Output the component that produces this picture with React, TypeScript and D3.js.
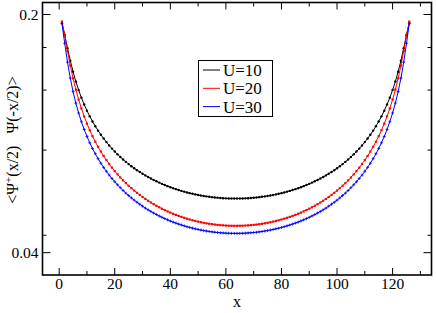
import React from "react";
import * as d3 from "d3";

// positions along the chain
const xs = d3.range(1, 127);

const u10 = [
  0.189, 0.1743, 0.1593, 0.1464, 0.1359, 0.1272, 0.1201, 0.114, 0.1089, 0.1044,
  0.1005, 0.09708, 0.094, 0.09125, 0.08877, 0.08651, 0.08445, 0.08256, 0.08083, 0.07923,
  0.07775, 0.07637, 0.07509, 0.0739, 0.07278, 0.07174, 0.07077, 0.06985, 0.06899, 0.06818,
  0.06742, 0.0667, 0.06603, 0.06539, 0.06479, 0.06422, 0.06369, 0.06318, 0.06271, 0.06226,
  0.06184, 0.06145, 0.06108, 0.06073, 0.06041, 0.0601, 0.05981, 0.05955, 0.0593, 0.05908,
  0.05887, 0.05868, 0.05851, 0.05835, 0.05821, 0.05809, 0.05798, 0.05789, 0.05781, 0.05775,
  0.05771, 0.05768, 0.05766,
  0.05766, 0.05768, 0.05771,
  0.05775, 0.05781, 0.05789, 0.05798, 0.05809, 0.05821, 0.05835, 0.05851, 0.05868, 0.05887,
  0.05908, 0.0593, 0.05955, 0.05981, 0.0601, 0.06041, 0.06073, 0.06108, 0.06145, 0.06184,
  0.06226, 0.06271, 0.06318, 0.06369, 0.06422, 0.06479, 0.06539, 0.06603, 0.0667, 0.06742,
  0.06818, 0.06899, 0.06985, 0.07077, 0.07174, 0.07278, 0.0739, 0.07509, 0.07637, 0.07775,
  0.07923, 0.08083, 0.08256, 0.08445, 0.08651, 0.08877, 0.09125, 0.094, 0.09708, 0.1005,
  0.1044, 0.1089, 0.114, 0.1201, 0.1272, 0.1359, 0.1464, 0.1593, 0.1743, 0.189,
];

const u20 = [
  0.1907, 0.1736, 0.1563, 0.1417, 0.1299, 0.1204, 0.1126, 0.106, 0.1005, 0.09568,
  0.09153, 0.08789, 0.08467, 0.08179, 0.07921, 0.07687, 0.07475, 0.07281, 0.07104, 0.0694,
  0.06789, 0.0665, 0.0652, 0.064, 0.06288, 0.06184, 0.06086, 0.05994, 0.05909, 0.05828,
  0.05752, 0.05681, 0.05615, 0.05551, 0.05492, 0.05436, 0.05384, 0.05335, 0.05288, 0.05244,
  0.05203, 0.05164, 0.05128, 0.05094, 0.05063, 0.05033, 0.05005, 0.04979, 0.04956, 0.04934,
  0.04913, 0.04895, 0.04878, 0.04863, 0.04849, 0.04837, 0.04827, 0.04818, 0.04811, 0.04805,
  0.048, 0.04798, 0.04796,
  0.04796, 0.04798, 0.048,
  0.04805, 0.04811, 0.04818, 0.04827, 0.04837, 0.04849, 0.04863, 0.04878, 0.04895, 0.04913,
  0.04934, 0.04956, 0.04979, 0.05005, 0.05033, 0.05063, 0.05094, 0.05128, 0.05164, 0.05203,
  0.05244, 0.05288, 0.05335, 0.05384, 0.05436, 0.05492, 0.05551, 0.05615, 0.05681, 0.05752,
  0.05828, 0.05909, 0.05994, 0.06086, 0.06184, 0.06288, 0.064, 0.0652, 0.0665, 0.06789,
  0.0694, 0.07104, 0.07281, 0.07475, 0.07687, 0.07921, 0.08179, 0.08467, 0.08789, 0.09153,
  0.09568, 0.1005, 0.106, 0.1126, 0.1204, 0.1299, 0.1417, 0.1563, 0.1736, 0.1907,
];

const u30 = [
  0.188, 0.1646, 0.1449, 0.1301, 0.1188, 0.1099, 0.1028, 0.0969, 0.09196, 0.08773,
  0.08407, 0.08087, 0.07803, 0.07549, 0.07322, 0.07117, 0.0693, 0.0676, 0.06603, 0.0646,
  0.06327, 0.06204, 0.06089, 0.05983, 0.05884, 0.05792, 0.05705, 0.05624, 0.05549, 0.05477,
  0.05405, 0.05343, 0.05284, 0.05228, 0.05176, 0.05126, 0.05079, 0.05036, 0.04995, 0.04955,
  0.04919, 0.04885, 0.04853, 0.04822, 0.04794, 0.04768, 0.04743, 0.0472, 0.04699, 0.04679,
  0.04661, 0.04645, 0.0463, 0.04616, 0.04604, 0.04593, 0.04584, 0.04576, 0.0457, 0.04564,
  0.0456, 0.04558, 0.04557,
  0.04557, 0.04558, 0.0456,
  0.04564, 0.0457, 0.04576, 0.04584, 0.04593, 0.04604, 0.04616, 0.0463, 0.04645, 0.04661,
  0.04679, 0.04699, 0.0472, 0.04743, 0.04768, 0.04794, 0.04822, 0.04853, 0.04885, 0.04919,
  0.04955, 0.04995, 0.05036, 0.05079, 0.05126, 0.05176, 0.05228, 0.05284, 0.05343, 0.05405,
  0.05477, 0.05549, 0.05624, 0.05705, 0.05792, 0.05884, 0.05983, 0.06089, 0.06204, 0.06327,
  0.0646, 0.06603, 0.0676, 0.0693, 0.07117, 0.07322, 0.07549, 0.07803, 0.08087, 0.08407,
  0.08773, 0.09196, 0.0969, 0.1028, 0.1099, 0.1188, 0.1301, 0.1449, 0.1646, 0.188,
];

const seriesNames = ["U=10", "U=20", "U=30"];
const seriesColors = ["#000000", "#ff0000", "#0000ff"];
const xTicks = [0, 20, 40, 60, 80, 100, 120];
const xMinorTicks = [10, 30, 50, 70, 90, 110, 130];
const yTicks = [0.2, 0.04];
const yMinorTicks = [0.16, 0.12, 0.08, 0.045];

const W = 436;
const H = 313;
const L = 42.5, R = 431.5, T = 2.5, B = 275;
const FONT = "'Liberation Serif', 'DejaVu Serif', serif";

const App: React.FC = () => {
  const x = d3.scaleLinear().domain([-6, 134]).range([L, R]);
  const y = d3.scaleLog().domain([0.0344, 0.2169]).range([B, T]);
  const series = [u10, u20, u30];

  const line = d3
    .line<number>()
    .x((_, i) => x(xs[i]))
    .y((d) => y(d));

  const marker = (k: number, cx: number, cy: number, key: string) => {
    const c = seriesColors[k];
    if (k === 0) return <circle key={key} cx={cx} cy={cy} r={1.2} fill={c} />;
    if (k === 1)
      return <rect key={key} x={cx - 1.1} y={cy - 1.1} width={2.2} height={2.2} fill={c} />;
    return (
      <path key={key} d={`M${cx - 1.5},${cy}H${cx + 1.5}M${cx},${cy - 1.5}V${cy + 1.5}`} stroke={c} strokeWidth={0.8} />
    );
  };

  return (
    <div style={{ position: "fixed", left: 0, top: 0 }}>
      <svg width={W} height={H} style={{ display: "block", background: "#fff" }}>
        {/* ticks, bottom + top */}
        {xTicks.map((t) => (
          <g key={"xt" + t} stroke="#000" strokeWidth={1}>
            <line x1={x(t)} x2={x(t)} y1={B} y2={B - 7} />
            <line x1={x(t)} x2={x(t)} y1={T} y2={T + 7} />
          </g>
        ))}
        {xMinorTicks.map((t) => (
          <g key={"xm" + t} stroke="#000" strokeWidth={1}>
            <line x1={x(t)} x2={x(t)} y1={B} y2={B - 4} />
            <line x1={x(t)} x2={x(t)} y1={T} y2={T + 4} />
          </g>
        ))}
        {yTicks.map((t) => (
          <g key={"yt" + t} stroke="#000" strokeWidth={1}>
            <line x1={L} x2={L + 8} y1={y(t)} y2={y(t)} />
            <line x1={R} x2={R - 8} y1={y(t)} y2={y(t)} />
          </g>
        ))}
        {yMinorTicks.map((t) => (
          <g key={"ym" + t} stroke="#000" strokeWidth={1}>
            <line x1={L} x2={L + 4} y1={y(t)} y2={y(t)} />
            <line x1={R} x2={R - 4} y1={y(t)} y2={y(t)} />
          </g>
        ))}

        {/* data */}
        {series.map((s, k) => (
          <g key={"s" + k}>
            <path d={line(s)!} fill="none" stroke={seriesColors[k]} strokeWidth={1} />
            {s.map((v, i) => marker(k, x(xs[i]), y(v), `m${k}-${i}`))}
          </g>
        ))}

        {/* frame */}
        <rect x={L} y={T} width={R - L} height={B - T} fill="none" stroke="#000" strokeWidth={1.6} />

        {/* tick labels */}
        {xTicks.map((t) => (
          <text key={"xl" + t} x={x(t)} y={289} textAnchor="middle" fontFamily={FONT} fontSize={15.5}>
            {t}
          </text>
        ))}
        {yTicks.map((t) => (
          <text key={"yl" + t} x={38.5} y={y(t)} dy="0.35em" textAnchor="end" fontFamily={FONT} fontSize={15.5}>
            {t}
          </text>
        ))}
        <text x={(L + R) / 2} y={307} textAnchor="middle" fontFamily={FONT} fontSize={16}>
          x
        </text>
        <text
          transform="translate(18,140) rotate(-90)"
          textAnchor="middle"
          fontFamily={FONT}
          fontSize={16}
        >
          {"<Ψ"}
          <tspan dy={-6} fontSize={11}>+</tspan>
          <tspan dy={6}>{"(x/2)\u00a0\u00a0 Ψ(-x/2)>"}</tspan>
        </text>

        {/* legend */}
        <rect x={198.5} y={60.5} width={74} height={56} fill="#fff" stroke="#000" strokeWidth={1} />
        {seriesNames.map((n, k) => (
          <g key={"lg" + k}>
            <line x1={203} x2={220} y1={70 + k * 18.3} y2={70 + k * 18.3} stroke={seriesColors[k]} strokeWidth={1} />
            <text x={223} y={70 + k * 18.3} dy="0.35em" fontFamily={FONT} fontSize={17}>
              {n}
            </text>
          </g>
        ))}
      </svg>
    </div>
  );
};

export default App;
